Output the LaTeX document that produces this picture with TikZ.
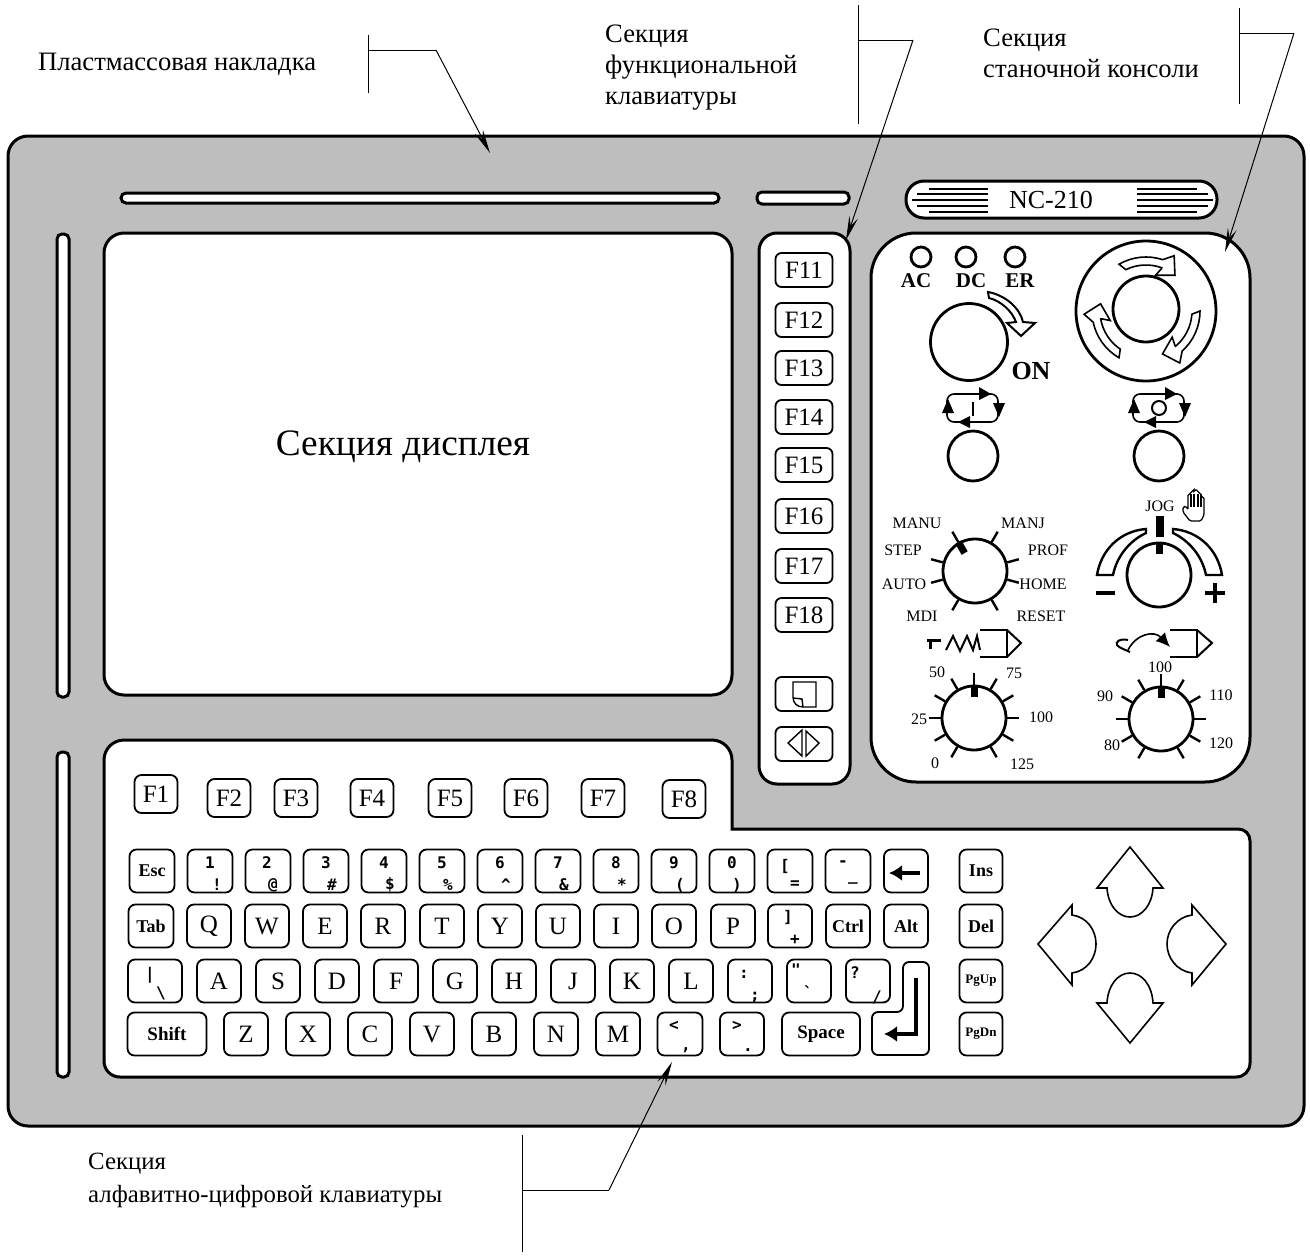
\documentclass[tikz,border=0pt]{standalone}
\usepackage{fontspec}
\setmainfont{Liberation Serif}
\setmonofont{DejaVu Sans Mono}
\usetikzlibrary{arrows.meta, calc}
\definecolor{panelgray}{HTML}{BEBEBE}
\newcommand{\fs}[1]{\fontsize{#1}{#1}\selectfont}
\tikzstyle{arrow} = [line width=1pt, -{Stealth[length=24pt,width=9pt,inset=9pt]}]
\tikzstyle{thinline} = [line width=1pt]
\tikzstyle{outline} = [draw, line width=3pt, fill=white]
\tikzstyle{keycap} = [draw, line width=1.8pt, rounded corners=7pt, inner sep=0pt, fill=white, font=\fs{25}]
\tikzstyle{fkey} = [keycap, minimum width=57pt, minimum height=34pt, rounded corners=6pt]
\tikzstyle{topkey} = [keycap, minimum width=43pt, minimum height=38pt]
\tikzstyle{lblkey} = [keycap, minimum width=44pt, minimum height=43pt]
\tikzstyle{legend} = [inner sep=0pt, font=\fs{16}\ttfamily\bfseries]
\tikzstyle{dial} = [draw, circle, line width=2.8pt, inner sep=0pt, fill=white]
\tikzstyle{ticks} = [line width=2.4pt]
\tikzstyle{pointer} = [line width=7pt]
\tikzstyle{dialtext} = [inner sep=0pt, font=\fs{16}]
\tikzstyle{symline} = [line width=2pt, line join=miter]
\tikzstyle{caption} = [inner sep=0pt, anchor=west, align=left, font=\fontsize{26.6}{31}\selectfont]

\begin{document}
\begin{tikzpicture}[x=1pt, y=-1pt]
    \useasboundingbox (0,0) rectangle (1310,1256);

    \draw[line width=3pt, fill=panelgray, rounded corners=20pt] (8,136) rectangle (1304,1126);

    \draw[outline, rounded corners=5pt] (121,193) rectangle (719,203);
    \draw[outline, rounded corners=5pt] (757,192) rectangle (849,204);
    \draw[outline, rounded corners=5pt] (57,234) rectangle (69,697);
    \draw[outline, rounded corners=5pt] (57,752) rectangle (69,1077);

    \draw[outline, rounded corners=18pt] (906,181) rectangle (1217,218);
    \node[inner sep=0pt, font=\fs{26}] (plate) at (1051,200) {NC-210};
    \foreach \xa/\xb/\yy in {929/1197/189, 917/1208/194, 912/1213/200, 917/1208/206, 929/1197/212} {
        \draw[line width=1.5pt] (\xa,\yy) -- (988,\yy);
        \draw[line width=1.5pt] (1137,\yy) -- (\xb,\yy);
    }

    \draw[outline, rounded corners=20pt] (104,233) rectangle (732,695);
    \node[inner sep=0pt, font=\fs{37.3}] (display) at (403,447) {Секция дисплея};

    \draw[outline, rounded corners=18pt] (759,233) rectangle (850,784);
    \foreach \name/\yy in {F11/270, F12/320, F13/368, F14/417, F15/465, F16/516, F17/566, F18/615} {
        \node[fkey] (\name) at (804,\yy) {\name};
    }
    \node[fkey] (pagekey) at (804,694) {};
    \draw[line width=1.4pt] (793,682) -- (816,682) -- (816,707) -- (803,707) .. controls (797,707) and (793,703) .. (793,697) -- cycle;
    \draw[line width=1.4pt] (793,698) -- (802,699) -- (803,707);
    \node[fkey] (splitkey) at (804,744) {};
    \draw[line width=1.4pt] (788,743) -- (802,730) -- (802,756) -- cycle;
    \draw[line width=1.4pt] (819,743) -- (806,731) -- (806,756) -- cycle;

    \draw[outline, rounded corners=45pt] (871,233) rectangle (1250,782);

    \foreach \name/\xx/\tx in {AC/921/916, DC/966/971, ER/1015/1020} {
        \node[dial, minimum size=20pt] (led\name) at (\xx,257) {};
        \node[inner sep=0pt, font=\fs{21}\bfseries] (lbl\name) at (\tx,281) {\name};
    }

    \node[dial, minimum size=77pt] (onbutton) at (969,342) {};
    \draw[symline, fill=white] (988,292) .. controls (1005,295) and (1020,308) .. (1023,322) -- (1035,323) -- (1021,336) -- (1007,323) -- (1016,322) .. controls (1012,311) and (1001,301) .. (989,298) -- cycle;
    \node[inner sep=0pt, font=\fs{26}\bfseries] (lblon) at (1031,371) {ON};

    \node[dial, minimum size=140pt] (stopbutton) at (1146,311) {};
    \node[dial, minimum size=66pt] (stopinner) at (1146,309) {};
    \foreach \rot in {0,120,240} {
        \begin{scope}[shift={(1146,311)}, rotate=\rot]
            \draw[line width=1.6pt, fill=white] plot[domain=-120:-72, samples=9] (\x:54) -- (-63:62) -- (-51:46) -- (-75:37) -- (-70:45) -- plot[domain=-70:-116, samples=9] (\x:46) -- cycle;
        \end{scope}
    }

    \foreach \dx in {0,186} {
        \begin{scope}[shift={(\dx,0)}]
            \draw[line width=1.6pt, rounded corners=7pt] (947,394) rectangle (998,422);
            \fill (979,387) -- (991,394) -- (979,400) -- cycle;
            \fill (993,403) -- (1005,403) -- (999,417) -- cycle;
            \fill (970,416) -- (958,422) -- (970,428) -- cycle;
            \fill (942,413) -- (954,413) -- (948,399) -- cycle;
        \end{scope}
    }
    \draw[line width=2pt] (973,402) -- (973,416);
    \node[dial, minimum size=14pt, line width=2pt] (holdmark) at (1159,408) {};
    \node[dial, minimum size=50pt] (startbutton) at (973,456) {};
    \node[dial, minimum size=50pt] (holdbutton) at (1159,456) {};

    \node[dial, minimum size=64pt] (modedial) at (975,571) {};
    \foreach \a in {60,165,15,195,345,240,300,120} {
        \draw[ticks] (modedial.\a) -- ++(-\a:12);
    }
    \draw[pointer] (modedial.120) -- ($(modedial)!0.62!(modedial.120)$);
    \foreach \name/\xx/\yy/\txt in {manu/917/523/MANU, manj/1023/523/MANJ, stp/903/550/STEP, prof/1048/550/PROF, auto/904/584/AUTO, home/1043/584/HOME, mdi/922/616/MDI, reset/1041/616/RESET} {
        \node[dialtext] (lbl\name) at (\xx,\yy) {\txt};
    }

    \node[dial, minimum size=64pt] (jogdial) at (1159,575) {};
    \draw[pointer] (jogdial.90) -- ($(jogdial)!0.62!(jogdial.90)$);
    \draw[pointer, line width=8pt] (1160,516) -- (1160,537);
    \draw[line width=2.4pt, fill=white] (1097,575) .. controls (1101,550) and (1120,531) .. (1146,529) -- (1146,533) .. controls (1131,540) and (1117,555) .. (1113,575) -- cycle;
    \draw[line width=2.4pt, fill=white] (1222,575) .. controls (1218,550) and (1199,531) .. (1173,529) -- (1173,533) .. controls (1188,540) and (1202,555) .. (1206,575) -- cycle;
    \node[dialtext] (lbljog) at (1160,506) {JOG};
    \draw[line width=1.3pt, rounded corners=1.5pt] (1190,521) -- (1183,512) -- (1183,507) -- (1186,506) -- (1188,510) -- (1188,494) -- (1191,494) -- (1191,491) -- (1194,491) -- (1194,490) -- (1198,490) -- (1198,493) -- (1201,493) -- (1201,497) -- (1204,497) -- (1204,515) -- (1201,521) -- cycle;
    \foreach \xx in {1191,1194,1198,1201} {
        \draw[line width=1.1pt] (\xx,494) -- (\xx,507);
    }
    \draw[line width=4pt] (1096,593) -- (1115,593);
    \draw[line width=4pt] (1205,593) -- (1225,593);
    \draw[line width=4pt] (1215,583) -- (1215,603);

    \draw[line width=3pt] (927,640) -- (941,640);
    \draw[line width=3pt] (930,640) -- (930,649);
    \draw[symline] (946,650) -- (953,636) -- (960,651) -- (967,636) -- (973,650) -- (977,636) -- (980,650);
    \draw[line width=2.6pt] (980,630) -- (1007,630) -- (1007,657) -- (980,657);
    \draw[symline] (1007,630) -- (1021,643) -- (1007,657);

    \draw[symline] (1128,640) .. controls (1120,638) and (1115,642) .. (1117,645) .. controls (1119,648) and (1126,650) .. (1130,652);
    \draw[line width=1.6pt, -{Latex[length=14pt,width=13pt]}] (1128,650) .. controls (1136,634) and (1154,630) .. (1170,647);
    \draw[line width=2.6pt] (1170,630) -- (1197,630) -- (1197,657) -- (1170,657);
    \draw[symline] (1197,630) -- (1212,643) -- (1197,657);

    \node[dial, minimum size=64pt] (feeddial) at (974,718) {};
    \node[dial, minimum size=64pt] (speeddial) at (1161,719) {};
    \foreach \a in {0,30,60,90,120,150,180,210,240,300,330} {
        \draw[ticks] (feeddial.\a) -- ++(-\a:12);
        \draw[ticks] (speeddial.\a) -- ++(-\a:12);
    }
    \draw[pointer] (feeddial.90) -- ($(feeddial)!0.62!(feeddial.90)$);
    \draw[pointer] (speeddial.90) -- ($(speeddial)!0.62!(speeddial.90)$);
    \foreach \name/\xx/\yy/\txt in {fa/937/672/50, fb/1014/673/75, fc/919/719/25, fd/1041/717/100, fe/935/763/0, ff/1022/764/125, sa/1160/667/100, sb/1105/696/90, sc/1221/695/110, sd/1112/745/80, se/1221/743/120} {
        \node[dialtext] (lbl\name) at (\xx,\yy) {\txt};
    }

    \draw[outline] (104,760) .. controls (104,749) and (113,740) .. (124,740) -- (712,740) .. controls (723,740) and (732,749) .. (732,760) -- (732,829) -- (1238,829) .. controls (1245,829) and (1250,834) .. (1250,841) -- (1250,1063) .. controls (1250,1071) and (1244,1077) .. (1236,1077) -- (120,1077) .. controls (111,1077) and (104,1070) .. (104,1061) -- cycle;

    \foreach \name/\xx/\yy in {F1/156/794, F2/229/798, F3/296/798, F4/372/798, F5/450/798, F6/526/798, F7/603/798, F8/684/799} {
        \node[topkey] (\name) at (\xx,\yy) {\name};
    }

    \foreach \name/\xx/\yy in {Q/209/926, W/267/926, E/325/926, R/383/926, T/442/926, Y/500/926, U/558/926, I/616/926, O/674/926, P/733/926,
                               A/219/981, S/278/981, D/337/981, F/396/981, G/455/981, H/514/981, J/573/981, K/632/981, L/691/981,
                               Z/246/1034, X/308/1034, C/370/1034, V/432/1034, B/494/1034, N/556/1034, M/618/1034} {
        \node[lblkey] (key\name) at (\xx,\yy) {\name};
    }

    \foreach \name/\xx/\yy/\ww/\sz in {Esc/152/871/45/18, Tab/151/926/45/18, Ctrl/848/926/44/18, Alt/906/926/44/18, Ins/981/871/43/18, Del/981/926/43/18, PgUp/981/981/43/13, PgDn/981/1034/43/13, Shift/167/1034/79/19, Space/821/1034/78/19} {
        \node[lblkey, minimum width=\ww pt, font=\fs{\sz}\bfseries] (key\name) at (\xx,\yy) {\name};
    }

    \foreach \name/\xx/\yy/\ww/\up/\ux/\uy/\lo/\lx/\ly in {
        one/210/871/45/1/210/863/!/217/885, two/268/871/45/2/267/863/@/273/885, three/326/871/45/3/326/863/\#/332/885,
        four/384/871/45/4/384/863/\$/390/885, five/442/871/45/5/442/863/\%/448/885, six/500/871/45/6/500/863/\textasciicircum/506/885,
        seven/558/871/45/7/558/863/\&/564/885, eight/616/871/45/8/616/863/*/622/885, nine/674/871/45/9/674/863/(/680/885,
        zero/732/871/45/0/732/863/)/737/885, lbrack/790/871/45/[/785/866/=/795/885, minus/848/871/45/-/843/864/\_/853/882,
        rbrack/790/926/44/]/788/917/+/795/940, colon/750/981/44/:/744/974/;/755/997, quote/809/981/44/"/796/970/`/808/992,
        query/868/981/44/?/855/973/{/}/877/997, bslash/155/981/54/\textbar/150/975/\textbackslash/161/993,
        less/680/1034/45/</674/1026/{,}/686/1050, great/742/1034/44/>/737/1026/./748/1050} {
        \node[lblkey, minimum width=\ww pt] (key\name) at (\xx,\yy) {};
        \node[legend] (up\name) at (\ux,\uy) {\up};
        \node[legend] (lo\name) at (\lx,\ly) {\lo};
    }

    \node[lblkey] (keyback) at (906,871) {};
    \draw[line width=4pt, -{Latex[length=13pt,width=16pt]}] (920,873) -- (889,873);

    \draw[line width=1.8pt, fill=white, rounded corners=6pt] (903,962) -- (929,962) -- (929,1055) -- (872,1055) -- (872,1012) -- (903,1012) -- cycle;
    \draw[line width=4pt, line join=miter, -{Latex[length=13pt,width=16pt]}] (916,978) -- (916,1034) -- (884,1034);

    \draw[symline, line width=1.6pt] (1130,847) -- (1163,888) -- (1153,888) .. controls (1152,905) and (1142,917) .. (1130,917) .. controls (1118,917) and (1108,905) .. (1107,888) -- (1097,888) -- cycle;
    \draw[symline, line width=1.6pt] (1130,1043) -- (1163,1003) -- (1153,1003) .. controls (1152,985) and (1142,973) .. (1130,973) .. controls (1118,973) and (1108,985) .. (1107,1003) -- (1097,1003) -- cycle;
    \draw[symline, line width=1.6pt] (1038,944) -- (1072,905) -- (1072,915) .. controls (1087,917) and (1096,930) .. (1096,944) .. controls (1096,958) and (1087,971) .. (1072,973) -- (1072,985) -- cycle;
    \draw[symline, line width=1.6pt] (1226,944) -- (1192,905) -- (1192,915) .. controls (1177,917) and (1167,930) .. (1167,944) .. controls (1167,958) and (1177,971) .. (1192,973) -- (1192,985) -- cycle;

    \node[caption] (capcover) at (38,64) {Пластмассовая накладка};
    \coordinate (covertop) at (368,35);
    \coordinate (coverbot) at (368,93);
    \coordinate (coverjoint) at (368,50);
    \coordinate (coverbend) at (436,50);
    \coordinate (covertip) at (490,153);
    \draw[thinline] (covertop) -- (coverbot);
    \draw[thinline] (coverjoint) -- (coverbend);
    \draw[arrow] (coverbend) -- (covertip);

    \node[caption] (capfunc) at (605,68) {Секция\\функциональной\\клавиатуры};
    \coordinate (functop) at (858,5);
    \coordinate (funcbot) at (858,124);
    \coordinate (funcjoint) at (858,40);
    \coordinate (funcbend) at (913,40);
    \coordinate (functip) at (846,240);
    \draw[thinline] (functop) -- (funcbot);
    \draw[thinline] (funcjoint) -- (funcbend);
    \draw[arrow] (funcbend) -- (functip);

    \node[caption] (capmach) at (983,53) {Секция\\станочной консоли};
    \coordinate (machtop) at (1239,8);
    \coordinate (machbot) at (1239,104);
    \coordinate (machjoint) at (1239,33);
    \coordinate (machbend) at (1294,33);
    \coordinate (machtip) at (1225,252);
    \draw[thinline] (machtop) -- (machbot);
    \draw[thinline] (machjoint) -- (machbend);
    \draw[arrow] (machbend) -- (machtip);

    \node[caption, font=\fontsize{24.8}{33}\selectfont] (capalpha) at (88,1180) {Секция\\алфавитно-цифровой клавиатуры};
    \coordinate (alphatop) at (522,1135);
    \coordinate (alphabot) at (522,1252);
    \coordinate (alphajoint) at (522,1190);
    \coordinate (alphabend) at (609,1190);
    \coordinate (alphatip) at (672,1062);
    \draw[thinline] (alphatop) -- (alphabot);
    \draw[thinline] (alphajoint) -- (alphabend);
    \draw[arrow] (alphabend) -- (alphatip);
\end{tikzpicture}
\end{document}
